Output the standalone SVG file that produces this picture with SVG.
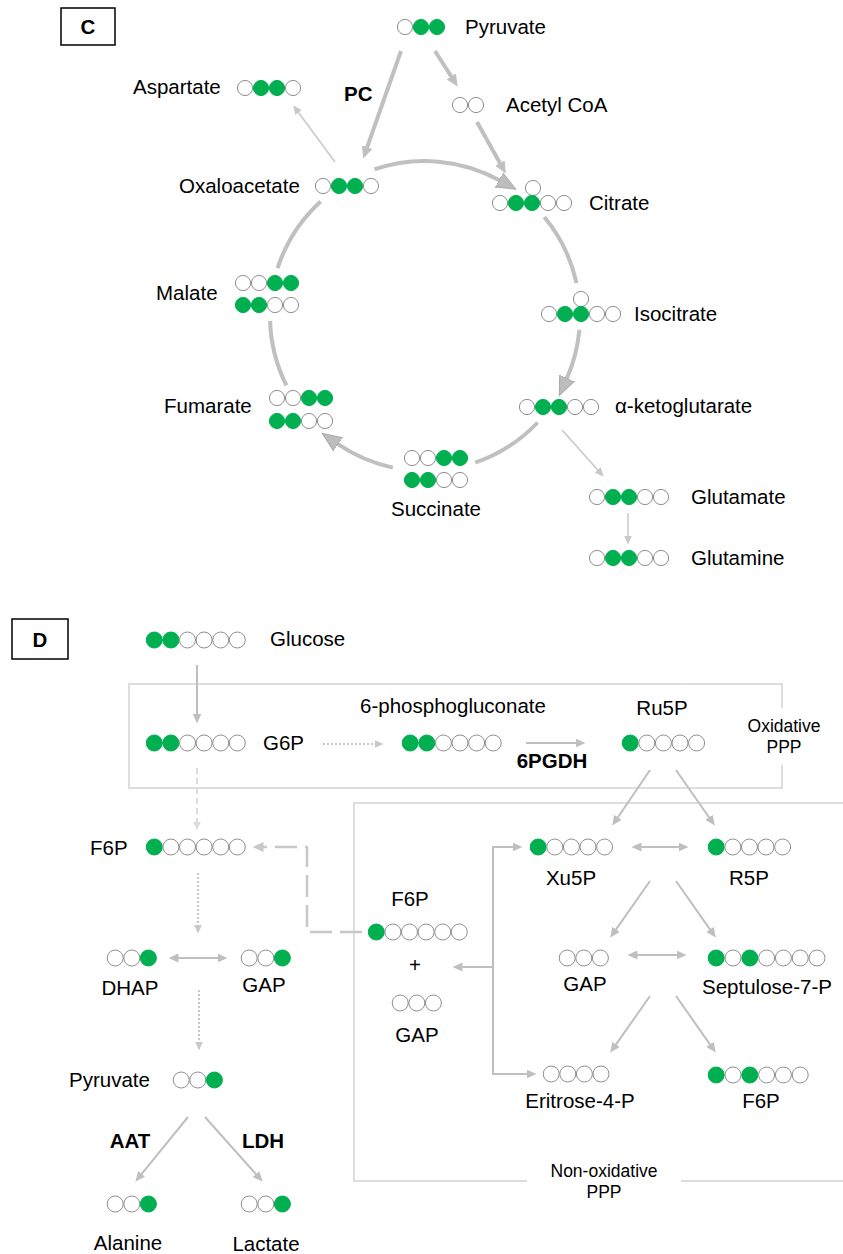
<svg xmlns="http://www.w3.org/2000/svg" width="843" height="1254" viewBox="0 0 843 1254">
<style>
text{font-family:"Liberation Sans",Arial,sans-serif;font-size:20.5px;fill:#000}
.b{font-weight:bold}
.m{text-anchor:middle}
.s{font-size:17.5px}
.w{fill:#fff;stroke:#8f8f8f;stroke-width:1}
.g{fill:#00b050;stroke:#00b050;stroke-width:1}
.cyc{fill:none;stroke:#c0c0c0;stroke-width:4}
.thk{fill:none;stroke:#c0c0c0;stroke-width:4}
.thn{fill:none;stroke:#c8c8c8;stroke-width:1.5}
.sol{fill:none;stroke:#bfbfbf;stroke-width:2}
.dot{fill:none;stroke:#c8c8c8;stroke-width:2;stroke-dasharray:2,2}
.dsh{fill:none;stroke:#dcdcdc;stroke-width:2;stroke-dasharray:6,4}
.ldsh{fill:none;stroke:#c8c8c8;stroke-width:2.5;stroke-dasharray:22,8}
.box{fill:none;stroke:#d4d4d4;stroke-width:1.5}
</style>
<defs>
<marker id="big" markerUnits="userSpaceOnUse" markerWidth="20" markerHeight="18" viewBox="0 0 20 18" refX="1" refY="9" orient="auto"><path d="M0,1 L19,9 L0,17 z" fill="#bdbdbd" stroke="#a8a8a8" stroke-width="1"/></marker>
<marker id="a4" markerUnits="userSpaceOnUse" markerWidth="12" markerHeight="11" viewBox="0 0 12 11" refX="0.5" refY="5.5" orient="auto"><path d="M0,0 L12,5.5 L0,11 z" fill="#c0c0c0"/></marker>
<marker id="a1" markerUnits="userSpaceOnUse" markerWidth="9" markerHeight="8" viewBox="0 0 9 8" refX="0.5" refY="4" orient="auto"><path d="M0,0 L9,4 L0,8 z" fill="#c8c8c8"/></marker>
<marker id="a2" markerUnits="userSpaceOnUse" markerWidth="10" markerHeight="9" viewBox="0 0 10 9" refX="0.5" refY="4.5" orient="auto-start-reverse"><path d="M0,0 L10,4.5 L0,9 z" fill="#bfbfbf"/></marker>
<marker id="a3" markerUnits="userSpaceOnUse" markerWidth="9" markerHeight="8" viewBox="0 0 9 8" refX="0.5" refY="4" orient="auto"><path d="M0,0 L9,4 L0,8 z" fill="#c8c8c8"/></marker>
<marker id="aL" markerUnits="userSpaceOnUse" markerWidth="9" markerHeight="8" viewBox="0 0 9 8" refX="0.5" refY="4" orient="auto"><path d="M0,0 L9,4 L0,8 z" fill="#dcdcdc"/></marker>
<marker id="aD" markerUnits="userSpaceOnUse" markerWidth="11" markerHeight="10" viewBox="0 0 11 10" refX="0.5" refY="5" orient="auto"><path d="M0,0 L11,5 L0,10 z" fill="#c8c8c8"/></marker>
</defs>

<!-- Panel labels -->
<g id="label-C"><rect x="61" y="8" width="54" height="37" fill="#fff" stroke="#000" stroke-width="1.5"/><text class="b m" x="88" y="34">C</text></g>
<g id="label-D"><rect x="12" y="619" width="56" height="40" fill="#fff" stroke="#000" stroke-width="1.5"/><text class="b m" x="40" y="647">D</text></g>

<!-- Boxes -->
<g id="box-oxidative">
<path class="box" d="M782,708 V684 H129 V788 H782 V765"/>
<text class="s m" x="784" y="732">Oxidative</text>
<text class="s m" x="784" y="753">PPP</text>
</g>
<g id="box-nonoxidative">
<path class="box" d="M843,803 H354 V1181 H527 M681,1181 H843"/>
<text class="s m" x="604" y="1177">Non-oxidative</text>
<text class="s m" x="604" y="1198">PPP</text>
</g>

<!-- Connectors -->
<g id="connectors">
<path class="cyc" d="M374.5,169.4 A155,155 0 0 1 499.9,180.5" marker-end="url(#big)"/>
<path class="cyc" d="M544.3,217 A155,155 0 0 1 576.5,283.2"/>
<path class="cyc" d="M579.4,329.8 A155,155 0 0 1 566.6,379" marker-end="url(#big)"/>
<path class="cyc" d="M537.6,422.5 A155,155 0 0 1 475.2,462.6"/>
<path class="cyc" d="M392.8,467.6 A155,155 0 0 1 337.2,443.7" marker-end="url(#big)"/>
<path class="cyc" d="M286.4,385.4 A155,155 0 0 1 270.1,320.9"/>
<path class="cyc" d="M277.6,268.1 A155,155 0 0 1 320.7,201.4"/>
<line class="thk" x1="401" y1="51" x2="367" y2="147.7" marker-end="url(#a4)"/>
<line class="thk" x1="435" y1="51" x2="451.5" y2="76.9" marker-end="url(#a4)"/>
<line class="thk" x1="477" y1="122" x2="500.2" y2="163.5" marker-end="url(#a4)"/>
<line class="thn" x1="335" y1="162" x2="298.3" y2="112.2" marker-end="url(#a1)"/>
<line class="thn" x1="562" y1="430" x2="598" y2="470.3" marker-end="url(#a1)"/>
<line class="thn" x1="628" y1="513" x2="628" y2="536" marker-end="url(#a1)"/>
<line class="sol" x1="197" y1="665" x2="197" y2="714" marker-end="url(#a2)"/>
<line class="dot" x1="323" y1="744" x2="375" y2="744" marker-end="url(#a3)"/>
<line class="sol" x1="526" y1="743" x2="576" y2="743" marker-end="url(#a2)"/>
<line class="dsh" x1="197" y1="768" x2="197" y2="822" marker-end="url(#aL)"/>
<line class="sol" x1="650" y1="770" x2="617.6" y2="817.7" marker-end="url(#a2)"/>
<line class="sol" x1="676" y1="770" x2="709.3" y2="817.8" marker-end="url(#a2)"/>
<line class="sol" x1="641" y1="847" x2="679" y2="847" marker-start="url(#a2)" marker-end="url(#a2)"/>
<line class="sol" x1="650" y1="881" x2="615.7" y2="929.8" marker-end="url(#a2)"/>
<line class="sol" x1="676" y1="881" x2="710.3" y2="929.8" marker-end="url(#a2)"/>
<line class="sol" x1="637" y1="955" x2="677" y2="955" marker-start="url(#a2)" marker-end="url(#a2)"/>
<line class="sol" x1="650" y1="996" x2="615.7" y2="1044.8" marker-end="url(#a2)"/>
<line class="sol" x1="676" y1="996" x2="710.3" y2="1044.8" marker-end="url(#a2)"/>
<line class="sol" x1="493" y1="847" x2="493" y2="1074"/>
<line class="sol" x1="492" y1="847" x2="513" y2="847" marker-end="url(#a2)"/>
<line class="sol" x1="492" y1="1074" x2="527" y2="1074" marker-end="url(#a2)"/>
<line class="sol" x1="493" y1="967" x2="462" y2="967" marker-end="url(#a2)"/>
<path class="ldsh" d="M362,932 H307 V847 H263" marker-end="url(#aD)"/>
<line class="dot" x1="198" y1="873" x2="198" y2="925" marker-end="url(#a3)"/>
<line class="sol" x1="178" y1="958" x2="218" y2="958" marker-start="url(#a2)" marker-end="url(#a2)"/>
<line class="dot" x1="199" y1="990" x2="199" y2="1042" marker-end="url(#a3)"/>
<line class="sol" x1="188" y1="1117" x2="141.3" y2="1174.3" marker-end="url(#a2)"/>
<line class="sol" x1="205" y1="1117" x2="256.3" y2="1174.5" marker-end="url(#a2)"/>
</g>
<g id="enzyme-labels">
<text class="b" x="344" y="101">PC</text>
<text class="b m" x="552" y="768">6PGDH</text>
<text class="b m" x="130" y="1148">AAT</text>
<text class="b m" x="263" y="1148">LDH</text>
</g>

<!-- Panel C nodes -->
<g id="c-pyruvate"><circle class="w" cx="405" cy="27" r="7.6"/><circle class="g" cx="421" cy="27" r="7.6"/><circle class="g" cx="437" cy="27" r="7.6"/><text x="465" y="34">Pyruvate</text></g>
<g id="c-acetylcoa"><circle class="w" cx="460" cy="105" r="7.6"/><circle class="w" cx="476" cy="105" r="7.6"/><text x="506" y="112">Acetyl CoA</text></g>
<g id="c-citrate"><circle class="w" cx="533" cy="188" r="7.6"/><circle class="w" cx="500" cy="203" r="7.6"/><circle class="g" cx="516" cy="203" r="7.6"/><circle class="g" cx="532" cy="203" r="7.6"/><circle class="w" cx="548" cy="203" r="7.6"/><circle class="w" cx="564" cy="203" r="7.6"/><text x="589" y="210">Citrate</text></g>
<g id="c-isocitrate"><circle class="w" cx="581" cy="299" r="7.6"/><circle class="w" cx="549" cy="314" r="7.6"/><circle class="g" cx="565" cy="314" r="7.6"/><circle class="g" cx="581" cy="314" r="7.6"/><circle class="w" cx="597" cy="314" r="7.6"/><circle class="w" cx="613" cy="314" r="7.6"/><text x="634" y="321">Isocitrate</text></g>
<g id="c-akg"><circle class="w" cx="527" cy="407" r="7.6"/><circle class="g" cx="543" cy="407" r="7.6"/><circle class="g" cx="559" cy="407" r="7.6"/><circle class="w" cx="575" cy="407" r="7.6"/><circle class="w" cx="591" cy="407" r="7.6"/><text x="615" y="413">α-ketoglutarate</text></g>
<g id="c-glutamate"><circle class="w" cx="597" cy="497" r="7.6"/><circle class="g" cx="613" cy="497" r="7.6"/><circle class="g" cx="629" cy="497" r="7.6"/><circle class="w" cx="645" cy="497" r="7.6"/><circle class="w" cx="661" cy="497" r="7.6"/><text x="691" y="504">Glutamate</text></g>
<g id="c-glutamine"><circle class="w" cx="597" cy="558" r="7.6"/><circle class="g" cx="613" cy="558" r="7.6"/><circle class="g" cx="629" cy="558" r="7.6"/><circle class="w" cx="645" cy="558" r="7.6"/><circle class="w" cx="661" cy="558" r="7.6"/><text x="691" y="565">Glutamine</text></g>
<g id="c-succinate"><circle class="w" cx="412" cy="458" r="7.6"/><circle class="w" cx="428" cy="458" r="7.6"/><circle class="g" cx="444" cy="458" r="7.6"/><circle class="g" cx="460" cy="458" r="7.6"/><circle class="g" cx="412" cy="480" r="7.6"/><circle class="g" cx="428" cy="480" r="7.6"/><circle class="w" cx="444" cy="480" r="7.6"/><circle class="w" cx="460" cy="480" r="7.6"/><text class="m" x="436" y="516">Succinate</text></g>
<g id="c-fumarate"><circle class="w" cx="277" cy="398" r="7.6"/><circle class="w" cx="293" cy="398" r="7.6"/><circle class="g" cx="309" cy="398" r="7.6"/><circle class="g" cx="325" cy="398" r="7.6"/><circle class="g" cx="277" cy="421" r="7.6"/><circle class="g" cx="293" cy="421" r="7.6"/><circle class="w" cx="309" cy="421" r="7.6"/><circle class="w" cx="325" cy="421" r="7.6"/><text x="164" y="413">Fumarate</text></g>
<g id="c-malate"><circle class="w" cx="243" cy="283" r="7.6"/><circle class="w" cx="259" cy="283" r="7.6"/><circle class="g" cx="275" cy="283" r="7.6"/><circle class="g" cx="291" cy="283" r="7.6"/><circle class="g" cx="243" cy="305" r="7.6"/><circle class="g" cx="259" cy="305" r="7.6"/><circle class="w" cx="275" cy="305" r="7.6"/><circle class="w" cx="291" cy="305" r="7.6"/><text x="156" y="300">Malate</text></g>
<g id="c-oxaloacetate"><circle class="w" cx="323" cy="186" r="7.6"/><circle class="g" cx="339" cy="186" r="7.6"/><circle class="g" cx="355" cy="186" r="7.6"/><circle class="w" cx="371" cy="186" r="7.6"/><text x="179" y="193">Oxaloacetate</text></g>
<g id="c-aspartate"><circle class="w" cx="245" cy="88" r="7.6"/><circle class="g" cx="261" cy="88" r="7.6"/><circle class="g" cx="277" cy="88" r="7.6"/><circle class="w" cx="293" cy="88" r="7.6"/><text x="133" y="94">Aspartate</text></g>

<!-- Panel D nodes -->
<g id="d-glucose"><circle class="g" cx="154.3" cy="640" r="8"/><circle class="g" cx="170.9" cy="640" r="8"/><circle class="w" cx="187.5" cy="640" r="8"/><circle class="w" cx="204.1" cy="640" r="8"/><circle class="w" cx="220.7" cy="640" r="8"/><circle class="w" cx="237.3" cy="640" r="8"/><text x="270" y="646">Glucose</text></g>
<g id="d-g6p"><circle class="g" cx="154.3" cy="743" r="8"/><circle class="g" cx="170.9" cy="743" r="8"/><circle class="w" cx="187.5" cy="743" r="8"/><circle class="w" cx="204.1" cy="743" r="8"/><circle class="w" cx="220.7" cy="743" r="8"/><circle class="w" cx="237.3" cy="743" r="8"/><text x="263" y="750">G6P</text></g>
<g id="d-6pg"><circle class="g" cx="410.2" cy="743" r="8"/><circle class="g" cx="426.8" cy="743" r="8"/><circle class="w" cx="443.4" cy="743" r="8"/><circle class="w" cx="460" cy="743" r="8"/><circle class="w" cx="476.6" cy="743" r="8"/><circle class="w" cx="493.2" cy="743" r="8"/><text class="m" x="453" y="713">6-phosphogluconate</text></g>
<g id="d-ru5p"><circle class="g" cx="630.2" cy="743" r="8"/><circle class="w" cx="646.8" cy="743" r="8"/><circle class="w" cx="663.4" cy="743" r="8"/><circle class="w" cx="680" cy="743" r="8"/><circle class="w" cx="696.6" cy="743" r="8"/><text class="m" x="662" y="715">Ru5P</text></g>
<g id="d-f6p-left"><circle class="g" cx="154.3" cy="847" r="8"/><circle class="w" cx="170.9" cy="847" r="8"/><circle class="w" cx="187.5" cy="847" r="8"/><circle class="w" cx="204.1" cy="847" r="8"/><circle class="w" cx="220.7" cy="847" r="8"/><circle class="w" cx="237.3" cy="847" r="8"/><text x="90" y="855">F6P</text></g>
<g id="d-dhap"><circle class="w" cx="115.2" cy="958" r="8"/><circle class="w" cx="131.8" cy="958" r="8"/><circle class="g" cx="148.4" cy="958" r="8"/><text class="m" x="130" y="995">DHAP</text></g>
<g id="d-gap-left"><circle class="w" cx="249.2" cy="958" r="8"/><circle class="w" cx="265.8" cy="958" r="8"/><circle class="g" cx="282.4" cy="958" r="8"/><text class="m" x="264" y="992">GAP</text></g>
<g id="d-pyruvate"><circle class="w" cx="181.2" cy="1080" r="8"/><circle class="w" cx="197.8" cy="1080" r="8"/><circle class="g" cx="214.4" cy="1080" r="8"/><text x="69" y="1087">Pyruvate</text></g>
<g id="d-alanine"><circle class="w" cx="115.2" cy="1204" r="8"/><circle class="w" cx="131.8" cy="1204" r="8"/><circle class="g" cx="148.4" cy="1204" r="8"/><text class="m" x="128" y="1250">Alanine</text></g>
<g id="d-lactate"><circle class="w" cx="249.2" cy="1204" r="8"/><circle class="w" cx="265.8" cy="1204" r="8"/><circle class="g" cx="282.4" cy="1204" r="8"/><text class="m" x="266" y="1251">Lactate</text></g>
<g id="d-f6p-gap-mid"><text class="m" x="410" y="906">F6P</text><circle class="g" cx="376.3" cy="932" r="8"/><circle class="w" cx="392.9" cy="932" r="8"/><circle class="w" cx="409.5" cy="932" r="8"/><circle class="w" cx="426.1" cy="932" r="8"/><circle class="w" cx="442.7" cy="932" r="8"/><circle class="w" cx="459.3" cy="932" r="8"/><text class="m" x="415" y="972">+</text><circle class="w" cx="400.2" cy="1003" r="8"/><circle class="w" cx="416.8" cy="1003" r="8"/><circle class="w" cx="433.4" cy="1003" r="8"/><text class="m" x="417" y="1042">GAP</text></g>
<g id="d-xu5p"><circle class="g" cx="538.2" cy="847" r="8"/><circle class="w" cx="554.8" cy="847" r="8"/><circle class="w" cx="571.4" cy="847" r="8"/><circle class="w" cx="588" cy="847" r="8"/><circle class="w" cx="604.6" cy="847" r="8"/><text class="m" x="571" y="885">Xu5P</text></g>
<g id="d-r5p"><circle class="g" cx="716.2" cy="847" r="8"/><circle class="w" cx="732.8" cy="847" r="8"/><circle class="w" cx="749.4" cy="847" r="8"/><circle class="w" cx="766" cy="847" r="8"/><circle class="w" cx="782.6" cy="847" r="8"/><text class="m" x="749" y="885">R5P</text></g>
<g id="d-gap-right"><circle class="w" cx="567.2" cy="958" r="8"/><circle class="w" cx="583.8" cy="958" r="8"/><circle class="w" cx="600.4" cy="958" r="8"/><text class="m" x="585" y="991">GAP</text></g>
<g id="d-septulose"><circle class="g" cx="716.2" cy="958" r="8"/><circle class="w" cx="733" cy="958" r="8"/><circle class="g" cx="749.8" cy="958" r="8"/><circle class="w" cx="766.6" cy="958" r="8"/><circle class="w" cx="783.4" cy="958" r="8"/><circle class="w" cx="800.2" cy="958" r="8"/><circle class="w" cx="817" cy="958" r="8"/><text class="m" x="767" y="994">Septulose-7-P</text></g>
<g id="d-e4p"><circle class="w" cx="551.2" cy="1074" r="8"/><circle class="w" cx="567.8" cy="1074" r="8"/><circle class="w" cx="584.4" cy="1074" r="8"/><circle class="w" cx="601" cy="1074" r="8"/><text class="m" x="580" y="1108">Eritrose-4-P</text></g>
<g id="d-f6p-right"><circle class="g" cx="716.2" cy="1075" r="8"/><circle class="w" cx="733" cy="1075" r="8"/><circle class="g" cx="749.8" cy="1075" r="8"/><circle class="w" cx="766.6" cy="1075" r="8"/><circle class="w" cx="783.4" cy="1075" r="8"/><circle class="w" cx="800.2" cy="1075" r="8"/><text class="m" x="761" y="1108">F6P</text></g>
</svg>
